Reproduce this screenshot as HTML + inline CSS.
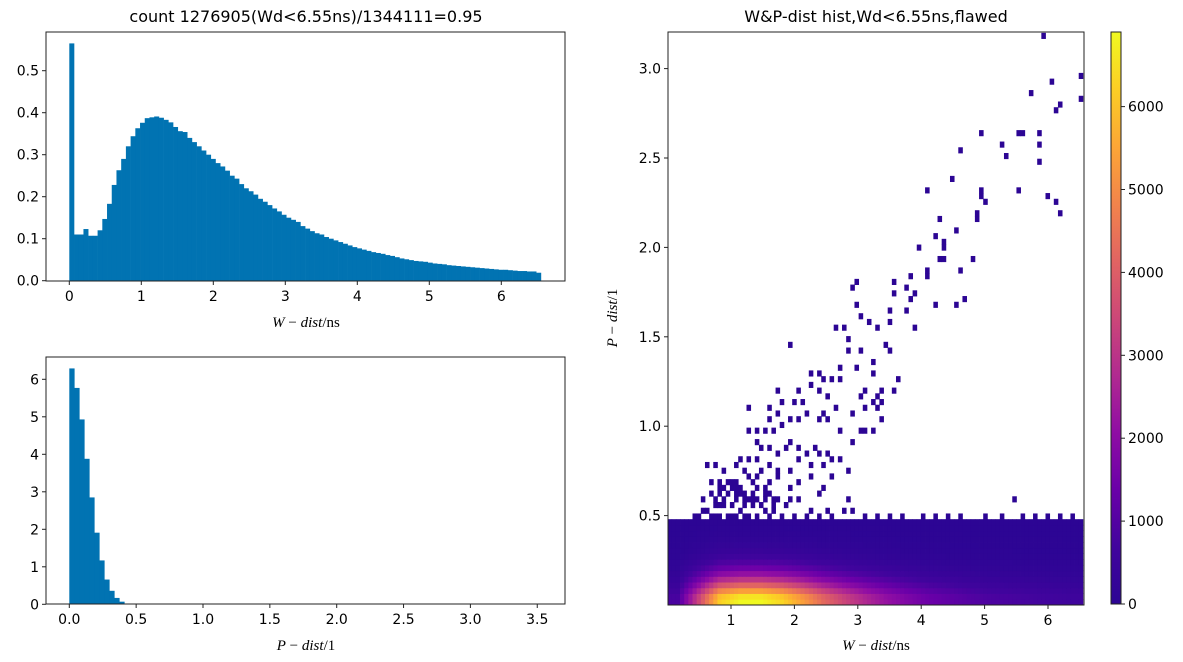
<!DOCTYPE html>
<html><head><meta charset="utf-8"><style>
body{margin:0;background:#fff}
svg{display:block;font-family:"DejaVu Sans","Liberation Sans",sans-serif}
.t{font-size:14px;fill:#000}
.ml{font-family:"Liberation Serif",serif;font-size:15px}
</style></head><body>
<svg id="c" width="1183" height="662" viewBox="0 0 1183 662"></svg>
<script>
// ---------- data ----------
const wdHistValues=[0.565,0.11,0.11,0.123,0.107,0.107,0.12,0.147,0.183,0.228,0.263,0.29,0.32,0.344,0.363,0.376,0.387,0.389,0.391,0.388,0.383,0.377,0.366,0.356,0.354,0.34,0.33,0.32,0.31,0.3,0.29,0.28,0.272,0.262,0.25,0.243,0.23,0.22,0.213,0.205,0.195,0.188,0.18,0.172,0.165,0.157,0.15,0.145,0.14,0.13,0.124,0.118,0.113,0.11,0.104,0.1,0.096,0.092,0.088,0.084,0.08,0.077,0.074,0.071,0.068,0.066,0.064,0.061,0.059,0.056,0.053,0.051,0.049,0.047,0.046,0.045,0.043,0.041,0.04,0.039,0.037,0.036,0.035,0.034,0.033,0.032,0.031,0.03,0.029,0.028,0.027,0.026,0.026,0.025,0.024,0.023,0.023,0.022,0.022,0.019];
const wdMax=6.55;
const wdTicks=[0,1,2,3,4,5,6];
const wdYTicks=["0.0","0.1","0.2","0.3","0.4","0.5"];
const pdHistValues=[6.29,5.77,4.93,3.88,2.85,1.91,1.17,0.66,0.36,0.17,0.07,0.02];
const pdMax=3.74;
const pdBins=100;
const pdTicks=["0.0","0.5","1.0","1.5","2.0","2.5","3.0","3.5"];
const pdYTicks=[0,1,2,3,4,5,6];
// heatmap
const hmPeak=6900;
const hmColProfile=[0.12,0.5,0.9,1.0,1.0,0.92,0.78,0.62,0.5,0.4,0.32,0.26,0.21,0.18,0.15,0.13,0.12,0.11,0.1,0.09];
const hmRowProfile=[1.0,0.95,0.78,0.6,0.44,0.31,0.21,0.14,0.09,0.06,0.04,0.025,0.015,0.008,0.004];
const hmScatter=[[5.92,3.18],[6.52,2.97],[6.52,2.82],[6.06,2.94],[5.72,2.86],[6.16,2.80],[6.13,2.77],[4.96,2.64],[5.53,2.64],[5.57,2.64],[5.86,2.64],[5.84,2.58],[5.26,2.58],[4.61,2.54],[5.31,2.51],[5.86,2.48],[4.47,2.39],[5.54,2.32],[4.12,2.33],[4.96,2.32],[4.96,2.28],[5.98,2.29],[6.16,2.20],[6.14,2.27],[4.91,2.19],[4.99,2.27],[4.28,2.16],[4.88,2.15],[3.93,2.01],[4.34,2.04],[4.25,2.07],[4.33,1.99],[4.37,1.94],[4.55,2.10],[4.28,1.94],[4.60,1.88],[4.82,1.95],[4.09,1.83],[4.12,1.88],[4.55,1.69],[4.71,1.72],[4.25,1.68],[3.81,1.85],[3.79,1.79],[3.60,1.80],[3.60,1.73],[3.81,1.71],[3.89,1.75],[3.74,1.65],[3.87,1.54],[3.52,1.65],[3.48,1.57],[3.33,1.54],[3.18,1.58],[2.99,1.80],[2.89,1.76],[2.99,1.69],[3.02,1.61],[2.78,1.55],[2.83,1.48],[2.64,1.54],[2.86,1.43],[3.05,1.43],[2.99,1.34],[3.21,1.37],[3.27,1.31],[3.43,1.45],[3.49,1.42],[3.65,1.27],[3.57,1.21],[3.29,1.17],[3.40,1.21],[3.14,1.19],[3.05,1.17],[2.75,1.34],[2.70,1.26],[2.61,1.25],[2.55,1.17],[2.48,1.26],[2.42,1.30],[2.39,1.20],[2.26,1.24],[2.23,1.28],[2.15,1.15],[2.04,1.20],[1.99,1.15],[1.91,1.45],[1.73,1.21],[1.79,1.15],[1.63,1.10],[1.60,1.03],[1.76,1.06],[1.52,0.98],[1.44,0.97],[1.69,0.97],[1.82,1.00],[1.91,1.05],[2.07,1.03],[2.20,1.08],[2.39,1.03],[2.48,1.08],[2.55,1.03],[2.67,1.09],[2.70,0.99],[2.89,1.06],[2.89,0.92],[3.02,0.98],[3.14,0.97],[3.27,0.98],[3.37,1.15],[3.40,1.03],[3.30,1.09],[3.21,1.12],[3.10,1.10],[1.25,1.11],[1.25,0.97],[1.38,0.92],[1.47,0.88],[1.60,0.88],[1.73,0.86],[1.85,0.87],[1.95,0.92],[2.07,0.88],[2.20,0.86],[2.31,0.88],[2.42,0.84],[2.55,0.86],[2.61,0.80],[2.73,0.81],[2.86,0.76],[2.48,0.77],[2.23,0.77],[2.07,0.80],[1.91,0.76],[1.76,0.76],[1.60,0.78],[1.44,0.80],[1.28,0.82],[1.13,0.81],[1.06,0.77],[0.91,0.76],[0.78,0.77],[0.65,0.77],[0.68,0.70],[0.84,0.70],[1.00,0.69],[1.16,0.67],[1.32,0.69],[1.44,0.71],[1.63,0.70],[1.76,0.72],[1.91,0.67],[2.07,0.70],[2.29,0.71],[2.48,0.67],[2.39,0.61],[2.61,0.71],[0.81,0.64],[0.68,0.63],[0.56,0.60],[0.65,0.54],[0.81,0.56],[0.97,0.61],[1.13,0.61],[1.28,0.59],[1.44,0.59],[1.60,0.62],[1.76,0.60],[1.91,0.58],[2.07,0.59],[2.26,0.54],[2.55,0.54],[2.86,0.58],[2.92,0.52],[2.80,0.54],[5.45,0.58],[1.13,0.53],[1.54,0.54],[1.69,0.53],[1.98,0.51],[0.56,0.53],[0.50,0.50],[0.40,0.48],[0.18,0.46],[0.05,0.45],[3.1,0.50],[3.5,0.49],[4.0,0.50],[4.4,0.49],[5.0,0.50],[5.6,0.49],[6.0,0.50],[6.4,0.49],
[0.72,0.51],[0.78,0.51],[0.85,0.51],[0.92,0.51],[1.0,0.51],[1.06,0.51],[1.2,0.51],[1.3,0.51],[1.4,0.51],[1.6,0.51],[1.8,0.51],[2.4,0.51],[2.6,0.51],[0.75,0.55],[0.9,0.55],[1.0,0.55],[1.2,0.55],[1.35,0.55],[1.45,0.55],[1.7,0.55],[1.85,0.55],[0.75,0.58],[0.9,0.58],[1.05,0.58],[1.2,0.58],[1.35,0.58],[1.55,0.58],[1.7,0.58],[0.85,0.61],[1.05,0.61],[1.2,0.61],[1.35,0.62],[1.55,0.62],[0.9,0.64],[1.0,0.64],[1.1,0.65],[1.4,0.65],[1.55,0.66],[0.95,0.68],[1.1,0.70],[1.25,0.72],[1.5,0.74],[1.2,0.76],[3.7,0.51],[4.2,0.51],[4.6,0.51],[5.3,0.51],[5.8,0.51],[6.2,0.51],[3.3,0.51],[2.2,0.51]];
const cbTicks=[0,1000,2000,3000,4000,5000,6000];

// ---------- helpers ----------
const NS="http://www.w3.org/2000/svg";
const svg=document.getElementById('c');
function el(tag,attrs,parent){const e=document.createElementNS(NS,tag);for(const k in attrs)e.setAttribute(k,attrs[k]);(parent||svg).appendChild(e);return e;}
function txt(x,y,s,anchor,cls,parent){const t=el('text',{x:x,y:y,'text-anchor':anchor||'middle',class:cls||'t'},parent);t.textContent=s;return t;}
const plasma=[[0,[44,5,148]],[0.1,[65,4,157]],[0.2,[106,0,168]],[0.3,[143,13,164]],[0.4,[177,42,144]],[0.5,[204,71,120]],[0.6,[225,100,98]],[0.7,[242,132,75]],[0.8,[252,166,54]],[0.9,[252,206,37]],[1,[240,249,33]]];
function cmap(f){f=Math.max(0,Math.min(1,f));for(let i=1;i<plasma.length;i++){if(f<=plasma[i][0]){const a=plasma[i-1],b=plasma[i];const t=(f-a[0])/(b[0]-a[0]);const c=a[1].map((v,j)=>Math.round(v+(b[1][j]-v)*t));return `rgb(${c[0]},${c[1]},${c[2]})`;}}return 'rgb(240,249,33)';}

// ---------- panel 1: W-dist hist ----------
{
const L=46,R=565,T=32,B=281;
const x=v=>69.3+v*72, y=v=>280.7-v*420;
const g=el('g',{});


const bw=wdMax/wdHistValues.length;
wdHistValues.forEach((v,i)=>{const r=el('rect',{x:x(i*bw),y:y(v),width:x((i+1)*bw)-x(i*bw)+0.3,height:B-y(v),fill:'#0173b2'},g);

});
const f=el('rect',{x:L,y:T,width:R-L,height:B-T,fill:'none',stroke:'#222','stroke-width':1},g);

wdTicks.forEach(v=>{el('line',{x1:x(v),x2:x(v),y1:B,y2:B+4,stroke:'#222'},g);txt(x(v),B+20,String(v),'middle','t',g);});
wdYTicks.forEach(s=>{const v=+s;el('line',{x1:L-4,x2:L,y1:y(v),y2:y(v),stroke:'#222'},g);txt(L-7,y(v)+5,s,'end','t',g);});
const tt=txt(306,22,'count 1276905(Wd<6.55ns)/1344111=0.95','middle','t',g);tt.setAttribute('style','font-size:16px');
const xl=el('text',{x:306,y:327,'text-anchor':'middle',class:'ml'},g);xl.innerHTML='<tspan font-style="italic">W</tspan> − <tspan font-style="italic">dist</tspan>/ns';
}
// ---------- panel 2: P-dist hist ----------
{
const L=46,R=565,T=357,B=604;
const x=v=>69.3+v*133.7, y=v=>604.3-v*37.5;
const g=el('g',{});


const bw=pdMax/pdBins;
pdHistValues.forEach((v,i)=>{const r=el('rect',{x:x(i*bw),y:y(v),width:x((i+1)*bw)-x(i*bw)+0.3,height:B-y(v),fill:'#0173b2'},g);

});
el('rect',{x:L,y:T,width:R-L,height:B-T,fill:'none',stroke:'#222','stroke-width':1},g);
pdTicks.forEach(s=>{const v=+s;el('line',{x1:x(v),x2:x(v),y1:B,y2:B+4,stroke:'#222'},g);txt(x(v),B+20,s,'middle','t',g);});
pdYTicks.forEach(v=>{el('line',{x1:L-4,x2:L,y1:y(v),y2:y(v),stroke:'#222'},g);txt(L-7,y(v)+5,String(v),'end','t',g);});
const xl=el('text',{x:306,y:650,'text-anchor':'middle',class:'ml'},g);xl.innerHTML='<tspan font-style="italic">P</tspan> − <tspan font-style="italic">dist</tspan>/1';
}
// ---------- panel 3: heatmap ----------
{
const L=668,R=1084,T=32,B=605;
const xs=v=>667.6+v*63.4, ys=v=>B-v*178.8;
const nx=100, ny=100, xmax=6.55, ymax=3.2;
const cw=xmax/nx, ch=ymax/ny;
const g=el('g',{});


const grid=[];for(let r=0;r<ny;r++){grid.push(new Array(nx).fill(0));}
const np=hmColProfile.length;
for(let r=0;r<hmRowProfile.length;r++)for(let c=0;c<nx;c++){
  const p=(c+0.5)*np/nx-0.5, i0=Math.max(0,Math.min(np-1,Math.floor(p))), i1=Math.min(np-1,i0+1), t=Math.max(0,Math.min(1,p-i0));
  const cp=hmColProfile[i0]*(1-t)+hmColProfile[i1]*t;
  grid[r][c]=Math.max(1,hmPeak*hmRowProfile[r]*cp);}
hmScatter.forEach(([a,b])=>{const c=Math.min(nx-1,Math.floor(a/cw)),r=Math.min(ny-1,Math.floor(b/ch));if(grid[r][c]<1)grid[r][c]=1;});
for(let r=0;r<ny;r++)for(let c=0;c<nx;c++){const v=grid[r][c];if(!v)continue;
  const x0=xs(c*cw),x1=xs((c+1)*cw),y0=ys((r+1)*ch),y1=ys(r*ch);
  const cell=el('rect',{x:x0,y:y0,width:x1-x0+0.4,height:y1-y0+0.4,fill:cmap(v/hmPeak)},g);
  
  }
el('rect',{x:L,y:T,width:R-L,height:B-T,fill:'none',stroke:'#222','stroke-width':1},g);
[1,2,3,4,5,6].forEach(v=>{el('line',{x1:xs(v),x2:xs(v),y1:B,y2:B+4,stroke:'#222'},g);txt(xs(v),B+20,String(v),'middle','t',g);});
["0.5","1.0","1.5","2.0","2.5","3.0"].forEach(s=>{const v=+s;el('line',{x1:L-4,x2:L,y1:ys(v),y2:ys(v),stroke:'#222'},g);txt(L-7,ys(v)+5,s,'end','t',g);});
const tt=txt(876,22,'W&P-dist hist,Wd<6.55ns,flawed','middle','t',g);tt.setAttribute('style','font-size:16px');
const xl=el('text',{x:876,y:650,'text-anchor':'middle',class:'ml'},g);xl.innerHTML='<tspan font-style="italic">W</tspan> − <tspan font-style="italic">dist</tspan>/ns';
const yl=el('text',{x:0,y:0,'text-anchor':'middle',class:'ml',transform:'translate(617,318) rotate(-90)'},g);yl.innerHTML='<tspan font-style="italic">P</tspan> − <tspan font-style="italic">dist</tspan>/1';
// colorbar
const cb=el('g',{});


const defs=el('defs',{},cb);const lg=el('linearGradient',{id:'pg',x1:0,y1:1,x2:0,y2:0},defs);
plasma.forEach(([o,c])=>el('stop',{offset:o,'stop-color':`rgb(${c[0]},${c[1]},${c[2]})`},lg));
const cT=32,cB=604,cy=v=>cB-v*(cB-cT)/hmPeak;
el('rect',{x:1111,y:cT,width:10,height:cB-cT,fill:'url(#pg)',stroke:'#222','stroke-width':1},cb);
cbTicks.forEach(v=>{el('line',{x1:1121,x2:1125,y1:cy(v),y2:cy(v),stroke:'#222'},cb);txt(1128,cy(v)+5,String(v),'start','t',cb);});
}
</script>
</body></html>
